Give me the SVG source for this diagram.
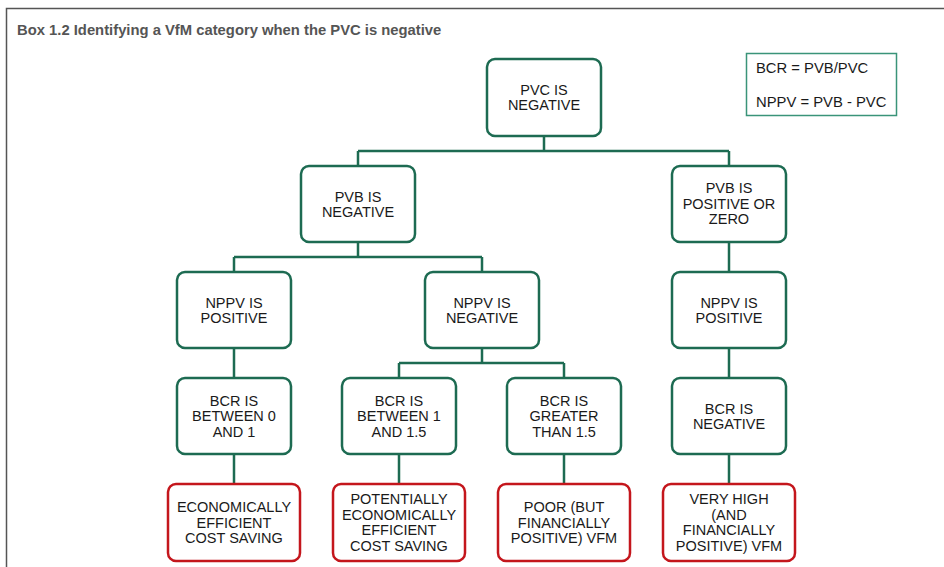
<svg xmlns="http://www.w3.org/2000/svg" width="944" height="567" viewBox="0 0 944 567">
<style>
.n{fill:#fff;stroke:#1d6b52;stroke-width:2.5}
.r{fill:#fff;stroke:#c4161c;stroke-width:2.5}
.t{font-family:"Liberation Sans",Arial,sans-serif;font-size:14.5px;fill:#1a1a1a;text-anchor:middle}
.c{fill:none;stroke:#1d6b52;stroke-width:2.5}
</style>
<rect width="944" height="567" fill="#fff"/>
<path d="M6.5,567 V8.5 H944" fill="none" stroke="#555" stroke-width="1.5"/>
<text x="17" y="35" font-family="Liberation Sans,Arial,sans-serif" font-size="14.8" font-weight="bold" fill="#555">Box 1.2 Identifying a VfM category when the PVC is negative</text>
<g id="legend">
<rect x="746.5" y="53.5" width="150" height="62" fill="#fff" stroke="#3a9479" stroke-width="1.5"/>
<text x="756" y="73" font-family="Liberation Sans,Arial,sans-serif" font-size="14.8" fill="#1a1a1a">BCR = PVB/PVC</text>
<text x="756" y="107" font-family="Liberation Sans,Arial,sans-serif" font-size="14.8" fill="#1a1a1a">NPPV = PVB - PVC</text>
</g>
<g id="connectors" class="c">
<path d="M544,136 V151 M358,151 H729 M358,151 V166 M729,151 V166"/>
<path d="M358,242 V257 M234,257 H482 M234,257 V272 M482,257 V272"/>
<path d="M729,242 V272"/>
<path d="M234,348 V378 M482,348 V363 M399,363 H564 M399,363 V378 M564,363 V378 M729,348 V378"/>
<path d="M234,454 V484 M399,454 V484 M564,454 V484 M729,454 V484"/>
</g>
<g id="pvc-neg"><rect class="n" x="487" y="59" width="114" height="77" rx="8"/>
<text class="t" x="544" y="95">PVC IS</text><text class="t" x="544" y="110">NEGATIVE</text></g>
<g id="pvb-neg"><rect class="n" x="301" y="166" width="114" height="76" rx="8"/>
<text class="t" x="358" y="201.5">PVB IS</text><text class="t" x="358" y="216.5">NEGATIVE</text></g>
<g id="pvb-pos"><rect class="n" x="672" y="166" width="114" height="76" rx="8"/>
<text class="t" x="729" y="193">PVB IS</text><text class="t" x="729" y="208.5">POSITIVE OR</text><text class="t" x="729" y="224">ZERO</text></g>
<g id="nppv-pos-l"><rect class="n" x="177" y="272" width="114" height="76" rx="8"/>
<text class="t" x="234" y="307.5">NPPV IS</text><text class="t" x="234" y="322.5">POSITIVE</text></g>
<g id="nppv-neg"><rect class="n" x="425" y="272" width="114" height="76" rx="8"/>
<text class="t" x="482" y="307.5">NPPV IS</text><text class="t" x="482" y="322.5">NEGATIVE</text></g>
<g id="nppv-pos-r"><rect class="n" x="672" y="272" width="114" height="76" rx="8"/>
<text class="t" x="729" y="307.5">NPPV IS</text><text class="t" x="729" y="322.5">POSITIVE</text></g>
<g id="bcr-0-1"><rect class="n" x="177" y="378" width="114" height="76" rx="8"/>
<text class="t" x="234" y="405.5">BCR IS</text><text class="t" x="234" y="421">BETWEEN 0</text><text class="t" x="234" y="436.5">AND 1</text></g>
<g id="bcr-1-15"><rect class="n" x="342" y="378" width="114" height="76" rx="8"/>
<text class="t" x="399" y="405.5">BCR IS</text><text class="t" x="399" y="421">BETWEEN 1</text><text class="t" x="399" y="436.5">AND 1.5</text></g>
<g id="bcr-gt-15"><rect class="n" x="507" y="378" width="114" height="76" rx="8"/>
<text class="t" x="564" y="405.5">BCR IS</text><text class="t" x="564" y="421">GREATER</text><text class="t" x="564" y="436.5">THAN 1.5</text></g>
<g id="bcr-neg"><rect class="n" x="672" y="378" width="114" height="76" rx="8"/>
<text class="t" x="729" y="413.5">BCR IS</text><text class="t" x="729" y="428.5">NEGATIVE</text></g>
<g id="econ"><rect class="r" x="168" y="484" width="132" height="77" rx="8"/>
<text class="t" x="234" y="512">ECONOMICALLY</text><text class="t" x="234" y="527.5">EFFICIENT</text><text class="t" x="234" y="543">COST SAVING</text></g>
<g id="pot-econ"><rect class="r" x="333" y="484" width="132" height="77" rx="8"/>
<text class="t" x="399" y="504">POTENTIALLY</text><text class="t" x="399" y="519.5">ECONOMICALLY</text><text class="t" x="399" y="535">EFFICIENT</text><text class="t" x="399" y="550.5">COST SAVING</text></g>
<g id="poor"><rect class="r" x="498" y="484" width="132" height="77" rx="8"/>
<text class="t" x="564" y="512">POOR (BUT</text><text class="t" x="564" y="527.5">FINANCIALLY</text><text class="t" x="564" y="543">POSITIVE) VFM</text></g>
<g id="very-high"><rect class="r" x="663" y="484" width="132" height="77" rx="8"/>
<text class="t" x="729" y="504">VERY HIGH</text><text class="t" x="729" y="519.5">(AND</text><text class="t" x="729" y="535">FINANCIALLY</text><text class="t" x="729" y="550.5">POSITIVE) VFM</text></g>
</svg>
